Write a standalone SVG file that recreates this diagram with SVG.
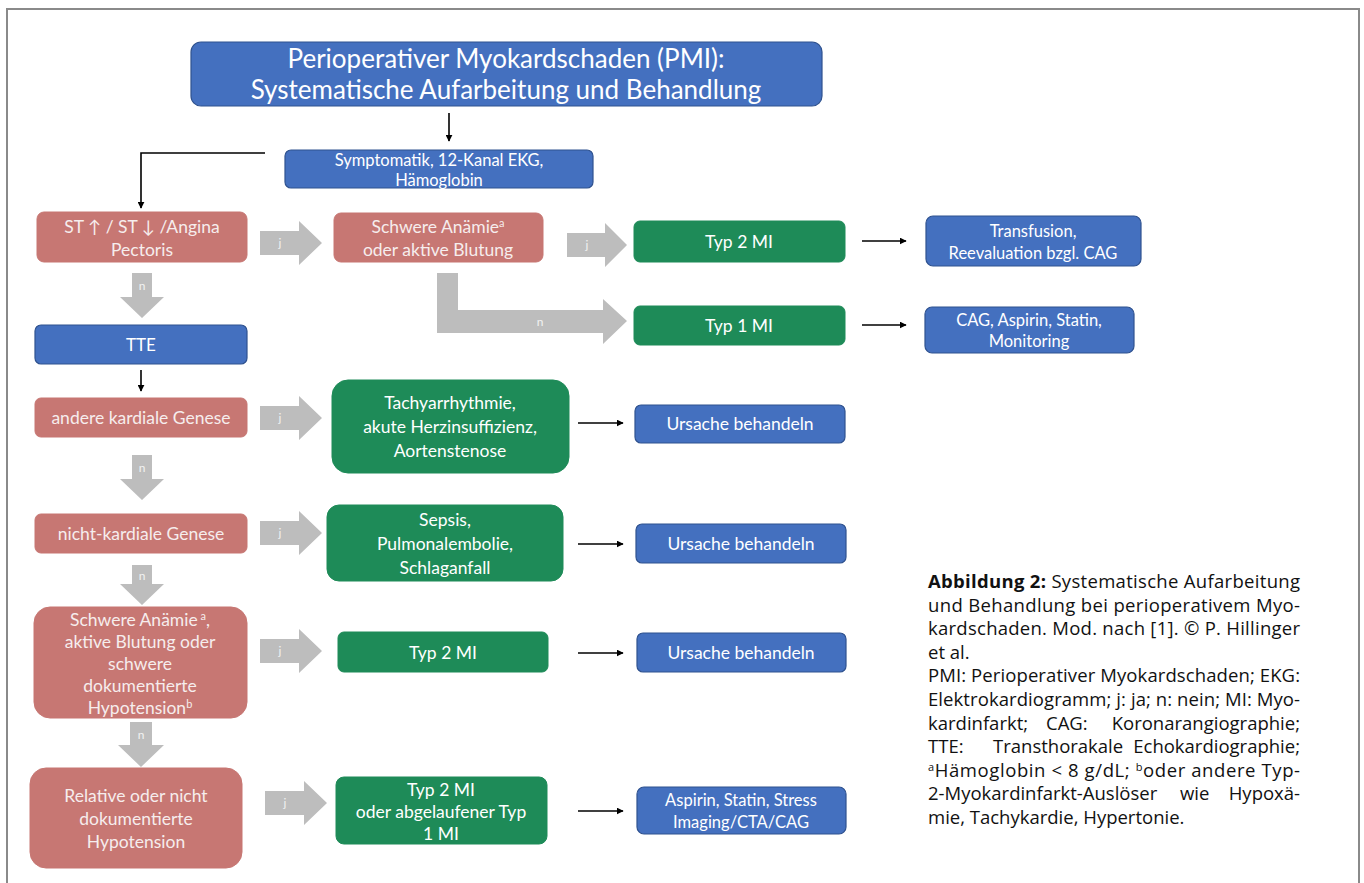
<svg xmlns="http://www.w3.org/2000/svg" width="1364" height="883" viewBox="0 0 1364 883">
<defs>
<marker id="ah" viewBox="0 0 10 10" refX="9" refY="5" markerWidth="7" markerHeight="7" markerUnits="userSpaceOnUse" orient="auto"><path d="M0,0 L10,5 L0,10 z" fill="#000"/></marker>
<style>
.blue{fill:#4470BF;stroke:#2F528F;stroke-width:1.2}
.red{fill:#C77773;stroke:#C77773}
.green{fill:#1E8B58;stroke:#1E8B58}
.t{font-family:Lato,"Open Sans",sans-serif;fill:#fff;text-anchor:middle}
.tr{font-family:Lato,"Open Sans",sans-serif;fill:#F6EDED;text-anchor:middle}
.ga{fill:#BDBDBD}
.gl{font-family:Lato,sans-serif;font-size:12px;fill:#F2F2F2;text-anchor:middle}
.con{stroke:#000;stroke-width:1.6;fill:none;marker-end:url(#ah)}
.cap{font-family:"Open Sans","Noto Sans",sans-serif;font-size:18.5px;fill:#111}
</style>
</defs>
<rect width="1364" height="883" fill="#fff"/>
<path d="M7,883 V9 H1359 V883" fill="none" stroke="#8a8a8a" stroke-width="2"/>

<g id="connectors">
<line class="con" x1="449" y1="113" x2="449" y2="141"/>
<polyline class="con" points="265,153 141,153 141,208"/>
<line class="con" x1="141" y1="370" x2="141" y2="391"/>
<line class="con" x1="862" y1="241" x2="906" y2="241"/>
<line class="con" x1="862" y1="325" x2="906" y2="325"/>
<line class="con" x1="578" y1="423" x2="623" y2="423"/>
<line class="con" x1="578" y1="544" x2="623" y2="544"/>
<line class="con" x1="578" y1="653" x2="623" y2="653"/>
<line class="con" x1="578" y1="811" x2="623" y2="811"/>
<path class="ga" d="M260,231 H299 V221 L322,243 L299,265 V255 H260 Z"/><text class="gl" x="280" y="247">j</text>
<path class="ga" d="M567,233 H605 V223 L627,245 L605,267 V257 H567 Z"/><text class="gl" x="587" y="249">j</text>
<path class="ga" d="M437,273 H458 V310 H603 V299 L627,321 L603,344 V333 H437 Z"/><text class="gl" x="540" y="326">n</text>
<path class="ga" d="M132,273 H152 V297 H164 L142,318 L120,297 H132 Z"/><text class="gl" x="142" y="290">n</text>
<path class="ga" d="M260,406 H299 V396 L322,418 L299,440 V430 H260 Z"/><text class="gl" x="280" y="422">j</text>
<path class="ga" d="M132,455 H152 V479 H164 L142,500 L120,479 H132 Z"/><text class="gl" x="142" y="472">n</text>
<path class="ga" d="M260,521 H299 V511 L322,533 L299,555 V545 H260 Z"/><text class="gl" x="280" y="537">j</text>
<path class="ga" d="M132,565 H152 V584 H164 L142,605 L120,584 H132 Z"/><text class="gl" x="142" y="580">n</text>
<path class="ga" d="M260,639 H299 V629 L322,651 L299,673 V663 H260 Z"/><text class="gl" x="280" y="655">j</text>
<path class="ga" d="M130,722 H152 V745 H164 L141,767 L118,745 H130 Z"/><text class="gl" x="141" y="739">n</text>
<path class="ga" d="M265,791 H304 V781 L327,803 L304,825 V815 H265 Z"/><text class="gl" x="285" y="807">j</text>
</g>

<g id="title"><rect class="blue" x="191" y="42" width="631" height="64" rx="10"/>
<text class="t" font-size="26" x="506" y="68">Perioperativer Myokardschaden (PMI):</text>
<text class="t" font-size="26" x="506" y="99">Systematische Aufarbeitung und Behandlung</text></g>

<g id="symptomatik"><rect class="blue" x="285" y="150" width="308" height="38" rx="6"/>
<text class="t" font-size="16.5" x="439" y="166">Symptomatik, 12-Kanal EKG,</text>
<text class="t" font-size="16.5" x="439" y="186">Hämoglobin</text></g>

<g id="st"><rect class="red" x="37" y="212" width="210" height="50" rx="7"/>
<text class="tr" font-size="17.5" x="142" y="233">ST ↑ / ST ↓ /Angina</text>
<text class="tr" font-size="17.5" x="142" y="256">Pectoris</text></g>

<g id="anaemie1"><rect class="red" x="334" y="213" width="209" height="49" rx="7"/>
<text class="tr" font-size="17.5" x="438" y="233">Schwere Anämie<tspan font-size="11" dy="-6">a</tspan></text>
<text class="tr" font-size="17.5" x="438" y="256">oder aktive Blutung</text></g>

<g id="typ2a"><rect class="green" x="634" y="221" width="211" height="41" rx="6"/>
<text class="t" font-size="17.5" x="739" y="248">Typ 2 MI</text></g>

<g id="transfusion"><rect class="blue" x="926" y="216" width="215" height="50" rx="7"/>
<text class="t" font-size="16.5" x="1033" y="237">Transfusion,</text>
<text class="t" font-size="16.5" x="1033" y="259">Reevaluation bzgl. CAG</text></g>

<g id="typ1"><rect class="green" x="634" y="306" width="211" height="39" rx="6"/>
<text class="t" font-size="17.5" x="739" y="332">Typ 1 MI</text></g>

<g id="cag"><rect class="blue" x="925" y="307" width="209" height="46" rx="7"/>
<text class="t" font-size="16.5" x="1029" y="326">CAG, Aspirin, Statin,</text>
<text class="t" font-size="16.5" x="1029" y="347">Monitoring</text></g>

<g id="tte"><rect class="blue" x="35" y="325" width="212" height="39" rx="6"/>
<text class="t" font-size="17" x="141" y="351">TTE</text></g>

<g id="kardial"><rect class="red" x="35" y="398" width="212" height="39" rx="6"/>
<text class="tr" font-size="17.5" x="141" y="424">andere kardiale Genese</text></g>

<g id="tachy"><rect class="green" x="332" y="380" width="237" height="93" rx="16"/>
<text class="t" font-size="17.5" x="450" y="409">Tachyarrhythmie,</text>
<text class="t" font-size="17.5" x="450" y="433">akute Herzinsuffizienz,</text>
<text class="t" font-size="17.5" x="450" y="457">Aortenstenose</text></g>

<g id="ursache1"><rect class="blue" x="635" y="405" width="210" height="38" rx="6"/>
<text class="t" font-size="17.5" x="740" y="430">Ursache behandeln</text></g>

<g id="nichtkardial"><rect class="red" x="35" y="514" width="212" height="39" rx="6"/>
<text class="tr" font-size="17.5" x="141" y="540">nicht-kardiale Genese</text></g>

<g id="sepsis"><rect class="green" x="327" y="505" width="236" height="76" rx="12"/>
<text class="t" font-size="17.5" x="445" y="526">Sepsis,</text>
<text class="t" font-size="17.5" x="445" y="550">Pulmonalembolie,</text>
<text class="t" font-size="17.5" x="445" y="574">Schlaganfall</text></g>

<g id="ursache2"><rect class="blue" x="636" y="524" width="210" height="39" rx="6"/>
<text class="t" font-size="17.5" x="741" y="550">Ursache behandeln</text></g>

<g id="anaemie2"><rect class="red" x="34" y="607" width="213" height="111" rx="16"/>
<text class="tr" font-size="17.5" x="140" y="626">Schwere Anämie<tspan font-size="11" dy="-6"> a</tspan><tspan dy="6">,</tspan></text>
<text class="tr" font-size="17.5" x="140" y="648">aktive Blutung oder</text>
<text class="tr" font-size="17.5" x="140" y="670">schwere</text>
<text class="tr" font-size="17.5" x="140" y="692">dokumentierte</text>
<text class="tr" font-size="17.5" x="140" y="714">Hypotension<tspan font-size="11" dy="-6">b</tspan></text></g>

<g id="typ2b"><rect class="green" x="338" y="632" width="210" height="40" rx="6"/>
<text class="t" font-size="17.5" x="443" y="659">Typ 2 MI</text></g>

<g id="ursache3"><rect class="blue" x="637" y="633" width="209" height="39" rx="6"/>
<text class="t" font-size="17.5" x="741" y="659">Ursache behandeln</text></g>

<g id="relative"><rect class="red" x="30" y="768" width="212" height="100" rx="16"/>
<text class="tr" font-size="17.5" x="136" y="802">Relative oder nicht</text>
<text class="tr" font-size="17.5" x="136" y="825">dokumentierte</text>
<text class="tr" font-size="17.5" x="136" y="848">Hypotension</text></g>

<g id="typ2c"><rect class="green" x="336" y="777" width="211" height="67" rx="8"/>
<text class="t" font-size="17.5" x="441" y="796">Typ 2 MI</text>
<text class="t" font-size="17.5" x="441" y="818">oder abgelaufener Typ</text>
<text class="t" font-size="17.5" x="441" y="840">1 MI</text></g>

<g id="aspirin"><rect class="blue" x="637" y="787" width="209" height="47" rx="7"/>
<text class="t" font-size="16.5" x="741" y="806">Aspirin, Statin, Stress</text>
<text class="t" font-size="16.5" x="741" y="828">Imaging/CTA/CAG</text></g>

<g id="caption" class="cap">
<text x="928" y="588" textLength="372" lengthAdjust="spacing"><tspan font-weight="bold">Abbildung 2:</tspan> Systematische Aufarbeitung</text>
<text x="928" y="611.6" textLength="372" lengthAdjust="spacing">und Behandlung bei perioperativem Myo-</text>
<text x="928" y="635.2" textLength="372" lengthAdjust="spacing">kardschaden. Mod. nach [1]. © P. Hillinger</text>
<text x="928" y="658.8">et al.</text>
<text x="928" y="682.4" textLength="372" lengthAdjust="spacing">PMI: Perioperativer Myokardschaden; EKG:</text>
<text x="928" y="706" textLength="372" lengthAdjust="spacing">Elektrokardiogramm; j: ja; n: nein; MI: Myo-</text>
<text y="729.6"><tspan x="928">kardinfarkt;</tspan><tspan x="1046">CAG:</tspan><tspan x="1300" text-anchor="end">Koronarangiographie;</tspan></text>
<text y="753.2"><tspan x="928">TTE:</tspan><tspan x="993">Transthorakale</tspan><tspan x="1300" text-anchor="end">Echokardiographie;</tspan></text>
<text x="928" y="776.8" textLength="372" lengthAdjust="spacing"><tspan font-size="11" dy="-6">a</tspan><tspan dy="6">Hämoglobin &lt; 8 g/dL; </tspan><tspan font-size="11" dy="-6">b</tspan><tspan dy="6">oder andere Typ-</tspan></text>
<text y="800.4"><tspan x="928">2-Myokardinfarkt-Auslöser</tspan><tspan x="1180">wie</tspan><tspan x="1300" text-anchor="end">Hypoxä-</tspan></text>
<text x="928" y="824">mie, Tachykardie, Hypertonie.</text>
</g>
</svg>
